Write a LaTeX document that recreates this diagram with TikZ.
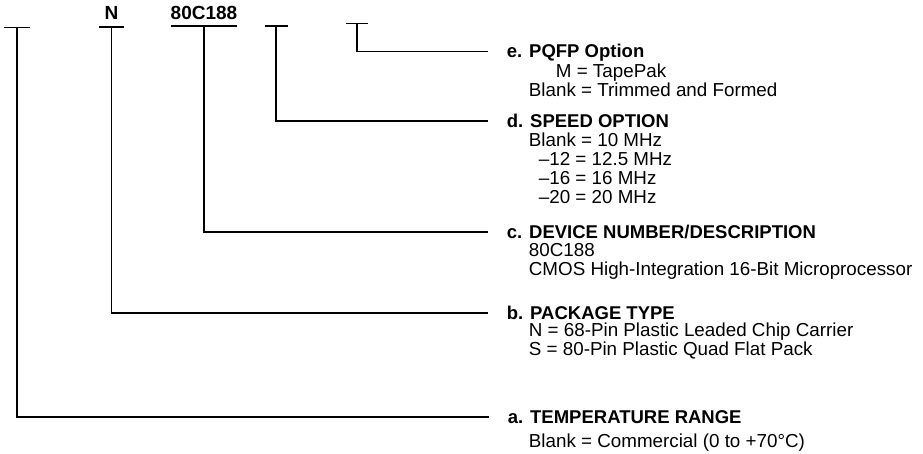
\documentclass[tikz,border=0pt]{standalone}
\usepackage{fontspec}
\setmainfont{Liberation Sans}
\begin{document}
\begin{tikzpicture}[x=1pt,y=-1pt,line width=1.8pt,
  hd/.style={font=\fontsize{18.5}{20}\selectfont\bfseries,anchor=west,inner sep=0pt,text height=13pt,text depth=0pt},
  tx/.style={font=\fontsize{18.8}{21}\selectfont,anchor=west,inner sep=0pt,text height=13.4pt,text depth=0pt},
  toplbl/.style={font=\fontsize{19}{21}\selectfont\bfseries,inner sep=0pt,text height=13.4pt,text depth=0pt},
  conn/.style={line width=1.8pt}]
\useasboundingbox (0,0) rectangle (923,454);
% T-bar tops
\coordinate (ta) at (17,27.5);
\coordinate (tb) at (111.5,27);
\coordinate (tc) at (204,26);
\coordinate (td) at (276,26);
\coordinate (te) at (357,23.5);
\draw[conn] ([xshift=-13pt]ta) -- ([xshift=13pt]ta);
\draw[conn] ([xshift=-12.5pt]tb) -- ([xshift=12.5pt]tb);
\draw[conn] ([xshift=-33pt]tc) -- ([xshift=33pt]tc);
\draw[conn] ([xshift=-11.5pt]td) -- ([xshift=11.5pt]td);
\draw[conn] ([xshift=-11pt]te) -- ([xshift=11pt]te);
% top labels
\node[toplbl] (lN) at (111.5,13) {N};
\node[toplbl] (l80) at (204,13) {80C188};
% headers
\node[hd] (eh) at (506,51.5) {e. PQFP Option};
\node[hd] (dh) at (506,121) {d. SPEED OPTION};
\node[hd] (ch) at (506,232) {c. DEVICE NUMBER/DESCRIPTION};
\node[hd] (bh) at (506,313) {b. PACKAGE TYPE};
\node[hd] (ah) at (507,417) {a. TEMPERATURE RANGE};
% connectors
\draw[conn] (te) |- ([xshift=-18pt]eh.west);
\draw[conn] (td) |- ([xshift=-18pt]dh.west);
\draw[conn] (tc) |- ([xshift=-18pt]ch.west);
\draw[conn] (tb) |- ([xshift=-18pt]bh.west);
\draw[conn] (ta) |- ([xshift=-18pt]ah.west);
% descriptions
\node[tx] (e1) at (555,71) {M = TapePak};
\node[tx] (e2) at (528,90) {Blank = Trimmed and Formed};
\node[tx] (d1) at (528,139.5) {Blank = 10 MHz};
\node[tx] (d2) at (538,158.5) {–12 = 12.5 MHz};
\node[tx] (d3) at (538,177.5) {–16 = 16 MHz};
\node[tx] (d4) at (538,196.5) {–20 = 20 MHz};
\node[tx] (c1) at (528,250) {80C188};
\node[tx] (c2) at (528,269) {CMOS High-Integration 16-Bit Microprocessor};
\node[tx] (b1) at (528,330) {N = 68-Pin Plastic Leaded Chip Carrier};
\node[tx] (b2) at (528,348.5) {S = 80-Pin Plastic Quad Flat Pack};
\node[tx] (a1) at (528,441) {Blank = Commercial (0 to +70°C)};
\end{tikzpicture}
\end{document}
